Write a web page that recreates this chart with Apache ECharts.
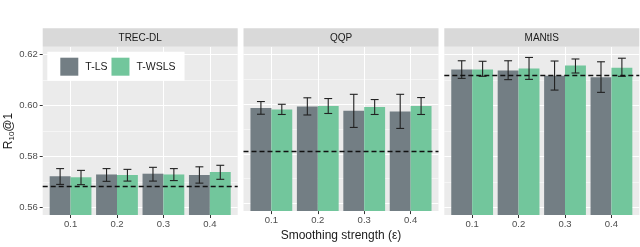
<!DOCTYPE html>
<html><head><meta charset="utf-8">
<script src="https://cdn.jsdelivr.net/npm/echarts@6/dist/echarts.min.js"></script>
<style>html,body{margin:0;padding:0;background:#fff}#c{width:640px;height:247px}</style>
</head><body><div id="c"></div>
<script>
// ---- data ----
const datasets = ['TREC-DL', 'QQP', 'MANtIS'];
const smoothing = ['0.1', '0.2', '0.3', '0.4'];
const seriesNames = ['T-LS', 'T-WSLS'];
const yTicks = [0.56, 0.58, 0.60, 0.62];
const yMinorTicks = [0.57, 0.59, 0.61];

const trecLS       = [0.5722, 0.5729, 0.5732, 0.5727];
const trecLSLow    = [0.5690, 0.5702, 0.5703, 0.5695];
const trecLSHigh   = [0.5752, 0.5752, 0.5757, 0.5759];
const trecWSLS     = [0.5718, 0.5727, 0.5729, 0.5739];
const trecWSLSLow  = [0.5689, 0.5703, 0.5705, 0.5710];
const trecWSLSHigh = [0.5745, 0.5749, 0.5752, 0.5765];

const qqpLS        = [0.5984, 0.5990, 0.5973, 0.5970];
const qqpLSLow     = [0.5959, 0.5956, 0.5906, 0.5902];
const qqpLSHigh    = [0.6010, 0.6025, 0.6039, 0.6039];
const qqpWSLS      = [0.5978, 0.5992, 0.5988, 0.5992];
const qqpWSLSLow   = [0.5958, 0.5962, 0.5958, 0.5958];
const qqpWSLSHigh  = [0.5999, 0.6022, 0.6018, 0.6026];

const mantisLS       = [0.6141, 0.6137, 0.6116, 0.6110];
const mantisLSLow    = [0.6106, 0.6101, 0.6060, 0.6051];
const mantisLSHigh   = [0.6175, 0.6175, 0.6174, 0.6171];
const mantisWSLS     = [0.6141, 0.6145, 0.6156, 0.6148];
const mantisWSLSLow  = [0.6114, 0.6102, 0.6127, 0.6114];
const mantisWSLSHigh = [0.6173, 0.6188, 0.6182, 0.6185];

const baselines = [0.5681, 0.5809, 0.6119];

// ---- build ----
const panelData = [
  [[trecLS, trecLSLow, trecLSHigh], [trecWSLS, trecWSLSLow, trecWSLSHigh]],
  [[qqpLS, qqpLSLow, qqpLSHigh], [qqpWSLS, qqpWSLSLow, qqpWSLSHigh]],
  [[mantisLS, mantisLSLow, mantisLSHigh], [mantisWSLS, mantisWSLSLow, mantisWSLSHigh]]
];
const colors = ['#737E84', '#72C69C'];
const panelLeft = [42.7, 243.5, 444.3];
const panelW = 195;
const panelTop = 47, panelH = 168;
const FONT = 'Liberation Sans, Arial, sans-serif';
const dodge = 0.225, capHalf = 0.085;

const grids = [], xAxes = [], yAxes = [], series = [], graphics = [];
datasets.forEach((name, p) => {
  grids.push({left: panelLeft[p], top: panelTop, width: panelW, height: panelH,
    show: true, backgroundColor: '#EBEBEB', borderWidth: 0, containLabel: false});
  xAxes.push({type: 'value', gridIndex: p, min: 0.4, max: 4.6,
    axisLine: {show: false},
    axisTick: {show: true, customValues: [1, 2, 3, 4], length: 3, lineStyle: {color: '#333', width: 1}},
    axisLabel: {show: true, customValues: [1, 2, 3, 4], formatter: v => smoothing[Math.round(v) - 1],
      fontSize: 9.5, color: '#4D4D4D', fontFamily: FONT, margin: 4},
    splitLine: {show: true, lineStyle: {color: '#FFFFFF', width: 1.1}},
    name: p === 1 ? 'Smoothing strength (\u03B5)' : '', nameLocation: 'middle', nameGap: 17,
    nameTextStyle: {fontSize: 12, color: '#1A1A1A', fontFamily: FONT}
  });
  yAxes.push({type: 'value', gridIndex: p, min: 0.557, max: 0.6229,
    axisLine: {show: false},
    axisTick: {show: p === 0, customValues: yTicks, length: 3, lineStyle: {color: '#333', width: 1}},
    axisLabel: {show: p === 0, customValues: yTicks, formatter: v => v.toFixed(2),
      fontSize: 9.5, color: '#4D4D4D', fontFamily: FONT, margin: 5},
    splitLine: {show: true, lineStyle: {color: '#FFFFFF', width: 1.1}},
    name: p === 0 ? 'R{sub|10}@1' : '', nameLocation: 'middle', nameGap: 27,
    nameTextStyle: {fontSize: 12, color: '#1A1A1A', fontFamily: FONT,
      rich: {sub: {fontSize: 8, fontFamily: FONT, color: '#1A1A1A', padding: [6, 0, 0, 0]}}}
  });
  // minor grid lines axis
  yAxes.push({type: 'value', gridIndex: p, min: 0.557, max: 0.6229, position: 'left',
    axisLine: {show: false}, axisTick: {show: false, customValues: yMinorTicks},
    axisLabel: {show: false, customValues: yMinorTicks},
    splitLine: {show: true, lineStyle: {color: '#FFFFFF', width: 0.5}}
  });
  const yIdx = p * 2;
  panelData[p].forEach((sd, s) => {
    const [vals, lows, highs] = sd;
    series.push({type: 'bar', name: seriesNames[s], xAxisIndex: p, yAxisIndex: yIdx,
      data: vals.map((v, i) => [i + 1, v]), barWidth: '45%', barGap: '0%',
      itemStyle: {color: colors[s]}, z: 2, silent: true,
      markLine: s === 0 ? {silent: true, symbol: 'none', precision: 6, label: {show: false},
        lineStyle: {color: '#111', type: [5, 3], width: 1.4}, z: 5,
        data: [{yAxis: baselines[p]}]} : undefined
    });
    const off = s === 0 ? -dodge : dodge;
    series.push({type: 'custom', xAxisIndex: p, yAxisIndex: yIdx, z: 4, silent: true,
      data: vals.map((v, i) => [i + 1, lows[i], highs[i]]),
      renderItem: (params, api) => {
        const x = api.value(0) + off;
        const lo = api.coord([x, api.value(1)]);
        const hi = api.coord([x, api.value(2)]);
        const l = api.coord([x - capHalf, api.value(1)])[0];
        const r = api.coord([x + capHalf, api.value(1)])[0];
        const st = {stroke: '#222', lineWidth: 1.1};
        return {type: 'group', children: [
          {type: 'line', shape: {x1: lo[0], y1: lo[1], x2: hi[0], y2: hi[1]}, style: st},
          {type: 'line', shape: {x1: l, y1: lo[1], x2: r, y2: lo[1]}, style: st},
          {type: 'line', shape: {x1: l, y1: hi[1], x2: r, y2: hi[1]}, style: st}
        ]};
      }
    });
  });
  graphics.push({type: 'rect', left: panelLeft[p], top: 28.3, shape: {width: panelW, height: 18.5},
    style: {fill: '#D9D9D9'}, silent: true});
  graphics.push({type: 'text', x: panelLeft[p] + panelW / 2, y: 38.3,
    style: {text: name, fill: '#1A1A1A', fontSize: 10, fontFamily: FONT, align: 'center', verticalAlign: 'middle'}, silent: true});
});

const chart = echarts.init(document.getElementById('c'), null, {renderer: 'canvas'});
chart.setOption({
  animation: false,
  grid: grids, xAxis: xAxes, yAxis: yAxes, series: series, graphic: graphics,
  legend: {data: seriesNames, left: 47.3, top: 51.7, backgroundColor: '#FFFFFF',
    padding: [6, 9, 5, 13], itemWidth: 18, itemHeight: 18, itemGap: 4, icon: 'rect',
    textStyle: {fontSize: 10.5, color: '#1A1A1A', fontFamily: FONT, padding: [0, 0, 0, 2]}, selectedMode: false}
});
</script></body></html>
